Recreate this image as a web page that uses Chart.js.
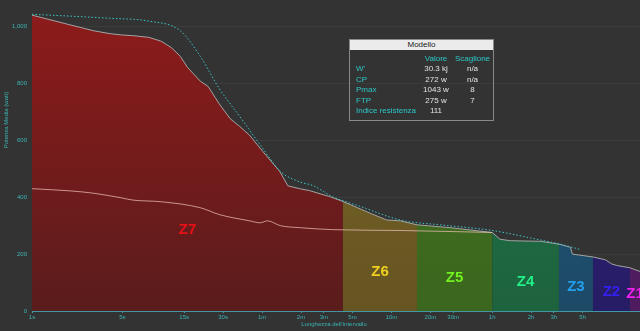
<!DOCTYPE html>
<html>
<head>
<meta charset="utf-8">
<script src="https://cdn.jsdelivr.net/npm/chart.js@4.4.1/dist/chart.umd.min.js"></script>
<style>
  html, body { margin: 0; padding: 0; background: #333333; }
  #wrap { position: relative; width: 640px; height: 331px; overflow: hidden; }
  #cp { position: absolute; left: 0; top: 0; }
  #model { position: absolute; left: 349px; top: 39px; width: 143px; height: 80px; border: 1px solid #8a8a8a;
    font-family: 'Liberation Sans', Arial, sans-serif; font-size: 8px; color: #e2e2e2; }
  #model .hd { height: 10px; line-height: 10px; background: #ebebeb; color: #222; text-align: center; }
  #model table { position: absolute; left: 0; top: 14px; width: 143px; border-collapse: collapse; table-layout: fixed; }
  #model td { height: 10.4px; line-height: 10.4px; padding: 0; white-space: nowrap; }
  #model td.k { color: #2ec8c8; padding-left: 6px; width: 64px; }
  #model td.v { text-align: center; width: 32px; }
  #model td.s { text-align: center; }
  #model tr.h td { color: #2ec8c8; }
</style>
</head>
<body>
<div id="wrap">
  <canvas id="cp" width="640" height="331"></canvas>
  <div id="model">
    <div class="hd">Modello</div>
    <table>
      <tr class="h"><td class="k"></td><td class="v">Valore</td><td class="s">Scaglione</td></tr>
      <tr><td class="k">W'</td><td class="v">30.3 kj</td><td class="s">n/a</td></tr>
      <tr><td class="k">CP</td><td class="v">272 w</td><td class="s">n/a</td></tr>
      <tr><td class="k">Pmax</td><td class="v">1043 w</td><td class="s">8</td></tr>
      <tr><td class="k">FTP</td><td class="v">275 w</td><td class="s">7</td></tr>
      <tr><td class="k">Indice resistenza</td><td class="v">111</td><td class="s"></td></tr>
    </table>
  </div>
</div>
<script>
(function(){
  // mean maximal power curve (seconds -> watts)
  var secs = [1,2,3,4,5,6,8,10,12,14,16,20,23,28,34,40,48,61,82,95,117,140,200,253,410,550,700,945,1700,3600,4150,5000,8500,11820,14500,15000,21650,27000,30000,33000,41800,50000];
  var mmp  = [1040,1005,985,975,970,968,962,948,925,895,855,808,789,728,676,650,618,560,491,440,430,423,402,385,344,320,317,303,293,276,252,247,245,235,224,200,190,180,166,160,152,139];

  // CP model curve
  var modelSecs  = [1,4,8,14,20,28,40,60,83,117,150,210,343,700,1500,3600,8000,12100,17000];
  var modelWatts = [1043,1029,1019,985,895,782,686,575,491,454,440,402,368,320,302,283,252,235,217];

  // comparison curve
  var prevSecs  = [1,2,3,5,6,10,20,28,48,58,66,83,117,210,700,3600];
  var prevWatts = [430,422,414,397,390,384,363,339,317,310,317,300,293,286,283,276];

  // zones
  var zoneEdges  = [1,253,945,3600,11820,21650,41800,50000];
  var zoneNames  = ['Z7','Z6','Z5','Z4','Z3','Z2','Z1'];
  var zoneLabelW = [286,139,115,101,84,67,60];

  var tickSecs   = [1,5,15,30,60,120,180,300,600,1200,1800,3600,7200,10800,18000];
  var tickLabels = ['1s','5s','15s','30s','1m','2m','3m','5m','10m','20m','30m','1h','2h','3h','5h'];
  var yTicks     = [0,200,400,600,800,1000];

  var zoneTop    = ['#8e1b1b','#7a6626','#44761f','#207648','#215878','#2f2178','#5e2070'];
  var zoneBottom = ['#5a1c1c','#665522','#3b661e','#1d633e','#1d4a66','#271d66','#4e1c5e'];
  var zoneText   = ['#ea1018','#f0d020','#72f020','#22f088','#22a0f0','#3420f0','#f020f0'];

  var axisCol = '#3cb4b4';
  var fontFam = "'Liberation Sans', Arial, sans-serif";

  function pts(xs, ys){
    return xs.map(function(x, i){ return { x: x, y: ys[i] }; });
  }

  function zoneData(i){
    var out = [];
    secs.forEach(function(s, j){
      if(s >= zoneEdges[i] && s <= zoneEdges[i+1]){ out.push({ x: s, y: mmp[j] }); }
    });
    return out;
  }

  function gradFor(i){
    return function(c){
      var a = c.chart.chartArea;
      if(!a){ return zoneTop[i]; }
      var g = c.chart.ctx.createLinearGradient(0, a.top, 0, a.bottom);
      g.addColorStop(0, zoneTop[i]);
      g.addColorStop(1, zoneBottom[i]);
      return g;
    };
  }

  var datasets = zoneNames.map(function(name, i){
    return {
      label: name,
      data: zoneData(i),
      fill: 'origin',
      backgroundColor: gradFor(i),
      borderWidth: 0,
      pointRadius: 0,
      tension: 0,
      order: 10
    };
  });

  datasets.push({
    label: 'mmp',
    data: pts(secs, mmp),
    fill: false,
    borderColor: '#a4a4a4',
    borderWidth: 1,
    pointRadius: 0,
    tension: 0,
    order: 3
  });
  datasets.push({
    label: 'prev',
    data: pts(prevSecs, prevWatts),
    fill: false,
    borderColor: 'rgba(235,190,180,0.75)',
    borderWidth: 1,
    pointRadius: 0,
    cubicInterpolationMode: 'monotone',
    order: 2
  });
  datasets.push({
    label: 'model',
    data: pts(modelSecs, modelWatts),
    fill: false,
    borderColor: '#3cc8c8',
    borderWidth: 1,
    borderDash: [1.5, 2],
    pointRadius: 0,
    cubicInterpolationMode: 'monotone',
    order: 1
  });

  var extras = {
    id: 'extras',
    afterDatasetsDraw: function(chart){
      var ctx = chart.ctx, xs = chart.scales.x, ys = chart.scales.y;
      ctx.save();
      ctx.font = 'bold 15px ' + fontFam;
      ctx.textAlign = 'center';
      ctx.textBaseline = 'middle';
      zoneNames.forEach(function(name, i){
        var mid = Math.sqrt(zoneEdges[i] * zoneEdges[i+1]);
        ctx.fillStyle = zoneText[i];
        ctx.fillText(name, xs.getPixelForValue(mid), ys.getPixelForValue(zoneLabelW[i]));
      });
      ctx.restore();
    },
    afterDraw: function(chart){
      var ctx = chart.ctx, a = chart.chartArea;
      ctx.save();
      ctx.fillStyle = axisCol;
      ctx.font = '6px ' + fontFam;
      ctx.textAlign = 'center';
      ctx.textBaseline = 'middle';
      ctx.fillText("Lunghezza dell'intervallo", (a.left + a.right) / 2 - 2, 324);
      ctx.translate(6, 120);
      ctx.rotate(-Math.PI / 2);
      ctx.fillText('Potenza Media (watt)', 0, 0);
      ctx.restore();
    }
  };

  new Chart(document.getElementById('cp').getContext('2d'), {
    type: 'line',
    data: { datasets: datasets },
    plugins: [extras],
    options: {
      responsive: false,
      animation: false,
      devicePixelRatio: 1,
      events: [],
      layout: { padding: 0 },
      plugins: { legend: { display: false }, tooltip: { enabled: false } },
      scales: {
        x: {
          type: 'logarithmic',
          min: 1,
          max: 50000,
          bounds: 'data',
          afterBuildTicks: function(s){ s.ticks = tickSecs.map(function(v){ return { value: v }; }); },
          afterFit: function(s){ s.height = 20; },
          ticks: {
            autoSkip: false, maxRotation: 0, padding: 1,
            color: axisCol, font: { family: fontFam, size: 6 },
            callback: function(v, i){ return tickLabels[i]; }
          },
          grid: { drawOnChartArea: false, tickLength: 2, color: '#3f98a4' },
          border: { color: '#3f98a4', width: 1 }
        },
        y: {
          min: 0,
          max: 1063,
          afterBuildTicks: function(s){ s.ticks = yTicks.map(function(v){ return { value: v }; }); },
          afterFit: function(s){ s.width = 32; },
          ticks: {
            padding: 5,
            color: axisCol, font: { family: fontFam, size: 6 },
            callback: function(v){ return v === 1000 ? '1,000' : String(v); }
          },
          grid: { drawTicks: false, color: 'rgba(255,255,255,0.045)' },
          border: { display: false }
        }
      }
    }
  });
})();
</script>
</body>
</html>
